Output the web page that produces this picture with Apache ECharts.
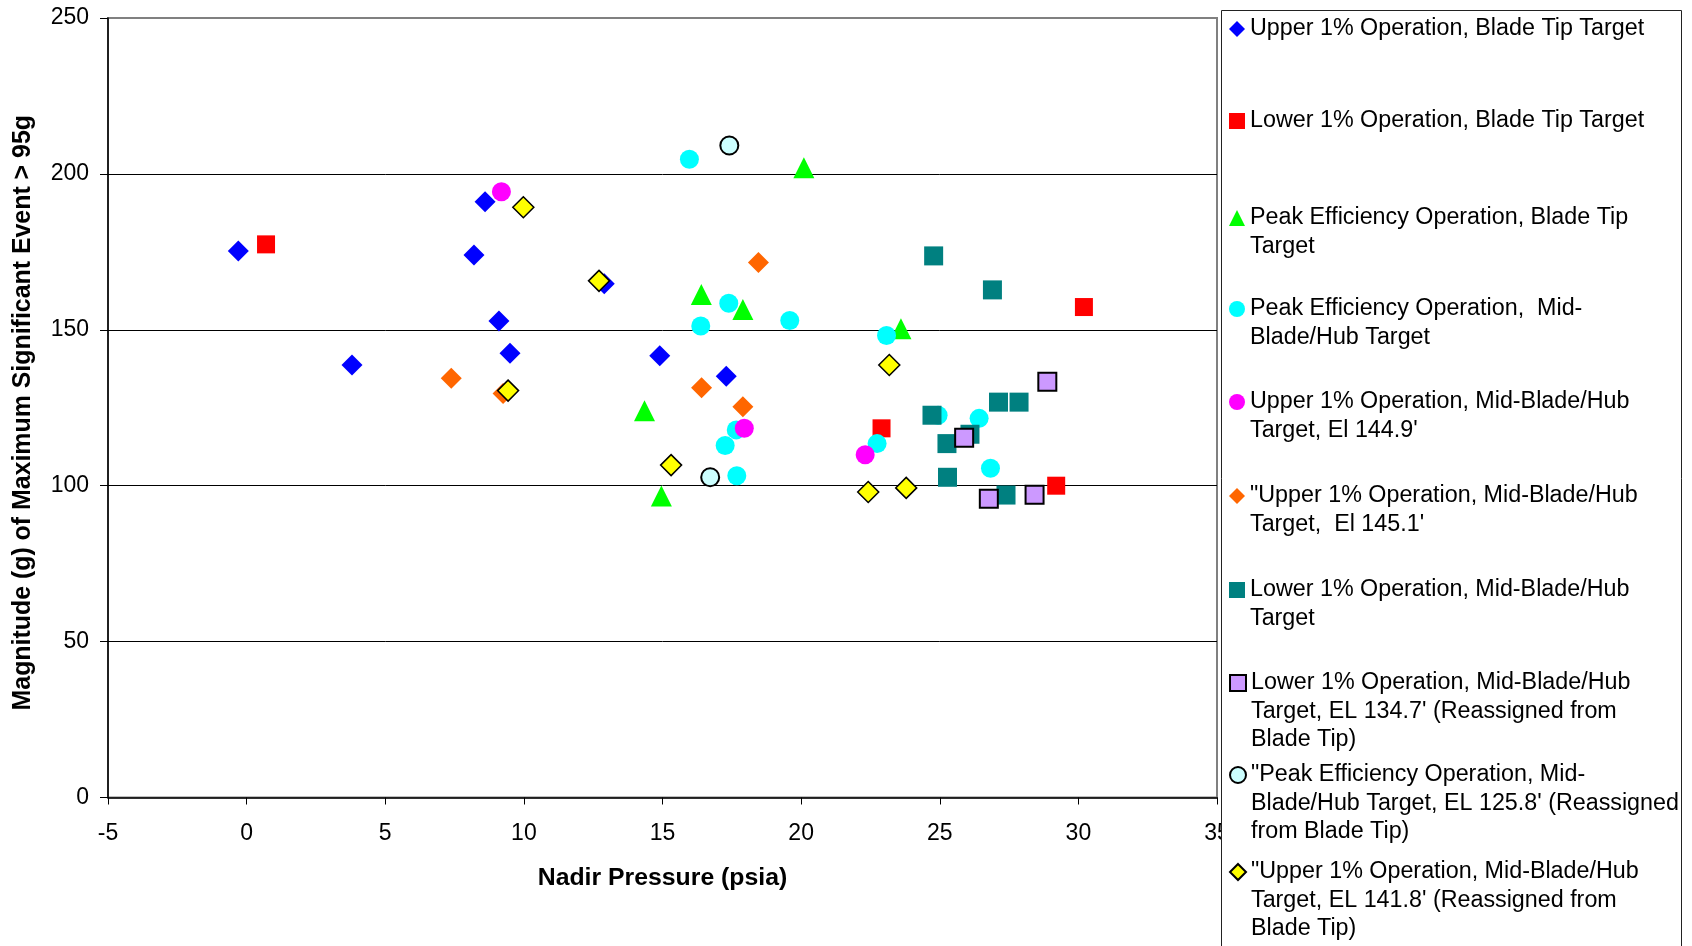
<!DOCTYPE html>
<html><head><meta charset="utf-8">
<script src="https://cdn.jsdelivr.net/npm/echarts@6/dist/echarts.min.js"></script>
<style>html,body{margin:0;padding:0;background:#fff}#c{width:1692px;height:946px}</style>
</head><body><div id="c"></div><script>
// ---------- data ----------
const xAxisRange = { min: -5, max: 35, interval: 5 };
const yAxisRange = { min: 0, max: 250, interval: 50 };

const upperTip = [[-0.3,175.3],[3.8,138.7],[8.2,174.0],[8.6,191.1],[9.1,152.8],[9.5,142.5],[12.9,164.8],[14.9,141.7],[17.3,135.1]];
const lowerTip = [[0.7,177.4],[22.9,118.4],[29.2,100.0],[30.2,157.3]];
const peakTip = [[14.35,124.0],[14.96,96.7],[16.4,161.3],[17.9,156.5],[20.1,202.0],[23.6,150.3]];
const peakHub = [[15.97,204.7],[16.38,151.2],[17.39,158.5],[19.59,153.0],[23.08,148.2],[17.66,117.9],[17.26,112.9],[17.68,103.2],[22.74,113.5],[24.94,122.6],[26.42,121.6],[26.83,105.6]];
const upperHub1449 = [[9.19,194.3],[17.95,118.4],[22.31,109.9]];
const upperHub1451 = [[7.38,134.5],[9.25,129.6],[16.41,131.4],[17.9,125.3],[18.46,171.6]];
const lowerHub = [[24.78,173.7],[26.9,162.8],[24.72,122.6],[25.26,113.5],[26.09,116.5],[25.28,102.7],[27.39,97.0],[27.12,126.8],[27.86,126.8]];
const lowerHub1347 = [[25.88,115.4],[26.77,95.8],[28.42,97.1],[28.88,133.3]];
const peakHub1258 = [[17.41,209.1],[16.72,102.7]];
const upperHub1418 = [[9.98,189.3],[12.71,165.7],[9.43,130.5],[15.31,106.6],[22.42,98.0],[23.79,99.3],[23.18,138.7]];

const seriesNames = [
  "Upper 1% Operation, Blade Tip Target",
  "Lower 1% Operation, Blade Tip Target",
  "Peak Efficiency Operation, Blade Tip Target",
  "Peak Efficiency Operation,  Mid-Blade/Hub Target",
  "Upper 1% Operation, Mid-Blade/Hub Target, El 144.9'",
  "\"Upper 1% Operation, Mid-Blade/Hub Target,  El 145.1'",
  "Lower 1% Operation, Mid-Blade/Hub Target",
  "Lower 1% Operation, Mid-Blade/Hub Target, EL 134.7' (Reassigned from Blade Tip)",
  "\"Peak Efficiency Operation, Mid-Blade/Hub Target, EL 125.8' (Reassigned from Blade Tip)",
  "\"Upper 1% Operation, Mid-Blade/Hub Target, EL 141.8' (Reassigned from Blade Tip)"
];
const legendLines = [
  ["Upper 1% Operation, Blade Tip Target"],
  ["Lower 1% Operation, Blade Tip Target"],
  ["Peak Efficiency Operation, Blade Tip", "Target"],
  ["Peak Efficiency Operation,  Mid-", "Blade/Hub Target"],
  ["Upper 1% Operation, Mid-Blade/Hub", "Target, El 144.9'"],
  ["\"Upper 1% Operation, Mid-Blade/Hub", "Target,  El 145.1'"],
  ["Lower 1% Operation, Mid-Blade/Hub", "Target"],
  ["Lower 1% Operation, Mid-Blade/Hub", "Target, EL 134.7' (Reassigned from", "Blade Tip)"],
  ["\"Peak Efficiency Operation, Mid-", "Blade/Hub Target, EL 125.8' (Reassigned", "from Blade Tip)"],
  ["\"Upper 1% Operation, Mid-Blade/Hub", "Target, EL 141.8' (Reassigned from", "Blade Tip)"]
];
const seriesData = [upperTip, lowerTip, peakTip, peakHub, upperHub1449, upperHub1451, lowerHub, lowerHub1347, peakHub1258, upperHub1418];

// ---------- styles ----------
const styles = [
  { symbol: 'diamond',  size: 21, color: '#0000FF' },
  { symbol: 'rect',     size: 18, color: '#FF0000' },
  { symbol: 'triangle', size: 21, color: '#00FF00' },
  { symbol: 'circle',   size: 19, color: '#00FFFF' },
  { symbol: 'circle',   size: 19, color: '#FF00FF' },
  { symbol: 'diamond',  size: 21, color: '#FF6600' },
  { symbol: 'rect',     size: 19, color: '#008080' },
  { symbol: 'rect',     size: 18, color: '#CC99FF', border: '#000', bw: 2 },
  { symbol: 'circle',   size: 18, color: '#CCFFFF', border: '#000', bw: 2 },
  { symbol: 'diamond',  size: 21, color: '#FFFF00', border: '#000', bw: 1.5 }
];
const legendIconCenters = [29, 121, 218, 309, 402, 496, 590, 683, 775, 872];
const LH = 28.5;
const FONT = "'Liberation Sans', Arial, sans-serif";

const series = seriesData.map((d, i) => ({
  name: seriesNames[i],
  type: 'scatter',
  data: d,
  symbol: styles[i].symbol,
  symbolSize: styles[i].size,
  itemStyle: {
    color: styles[i].color,
    borderColor: styles[i].border || styles[i].color,
    borderWidth: styles[i].bw || 0,
    opacity: 1
  },
  emphasis: { disabled: true },
  z: 2
}));

const legends = seriesNames.map((n, i) => {
  const L = legendLines[i].length;
  return {
    data: [n],
    orient: 'vertical',
    left: 1229,
    top: legendIconCenters[i] - (2 * L - 1) * LH / 2,
    padding: 0,
    itemWidth: 16,
    itemHeight: 16,
    selectedMode: false,
    z: 6,
    formatter: () => '\n'.repeat(L - 1) + legendLines[i].join('\n'),
    textStyle: { fontFamily: FONT, fontSize: 23.3, lineHeight: LH, color: '#000' }
  };
});

const chart = echarts.init(document.getElementById('c'), null, { renderer: 'canvas' });
chart.setOption({
  animation: false,
  backgroundColor: '#fff',
  textStyle: { fontFamily: FONT },
  grid: {
    left: 108, right: 475, top: 18, bottom: 148.5,
    containLabel: false, outerBoundsMode: 'none',
    show: true, borderColor: '#808080', borderWidth: 2, backgroundColor: '#fff'
  },
  xAxis: {
    type: 'value',
    min: xAxisRange.min, max: xAxisRange.max, interval: xAxisRange.interval,
    name: 'Nadir Pressure (psia)',
    nameLocation: 'middle', nameGap: 68,
    nameTextStyle: { fontFamily: FONT, fontSize: 24.8, fontWeight: 'bold', color: '#000' },
    axisLine: { show: true, onZero: false, lineStyle: { color: '#000', width: 1.5 } },
    axisTick: { show: true, inside: false, length: 7, lineStyle: { color: '#000', width: 1 } },
    axisLabel: { fontFamily: FONT, fontSize: 23, color: '#000', margin: 25 },
    splitLine: { show: false }
  },
  yAxis: {
    type: 'value',
    min: yAxisRange.min, max: yAxisRange.max, interval: yAxisRange.interval,
    name: 'Magnitude (g) of Maximum Significant Event > 95g',
    nameLocation: 'middle', nameGap: 72,
    nameTextStyle: { fontFamily: FONT, fontSize: 24.9, fontWeight: 'bold', color: '#000', padding: [0, 10, 0, 0] },
    axisLine: { show: true, onZero: false, lineStyle: { color: '#000', width: 1.5 } },
    axisTick: { show: true, inside: false, length: 8, lineStyle: { color: '#000', width: 1 } },
    axisLabel: { fontFamily: FONT, fontSize: 23, color: '#000', margin: 19 },
    splitLine: { show: true, showMinLine: false, showMaxLine: false, lineStyle: { color: '#000', width: 1 } }
  },
  legend: legends,
  graphic: [{
    type: 'rect', z: 5, silent: true,
    shape: { x: 1221.5, y: 10.5, width: 460, height: 960 },
    style: { fill: '#fff', stroke: '#222', lineWidth: 1 }
  }],
  series: series
});
</script></body></html>
